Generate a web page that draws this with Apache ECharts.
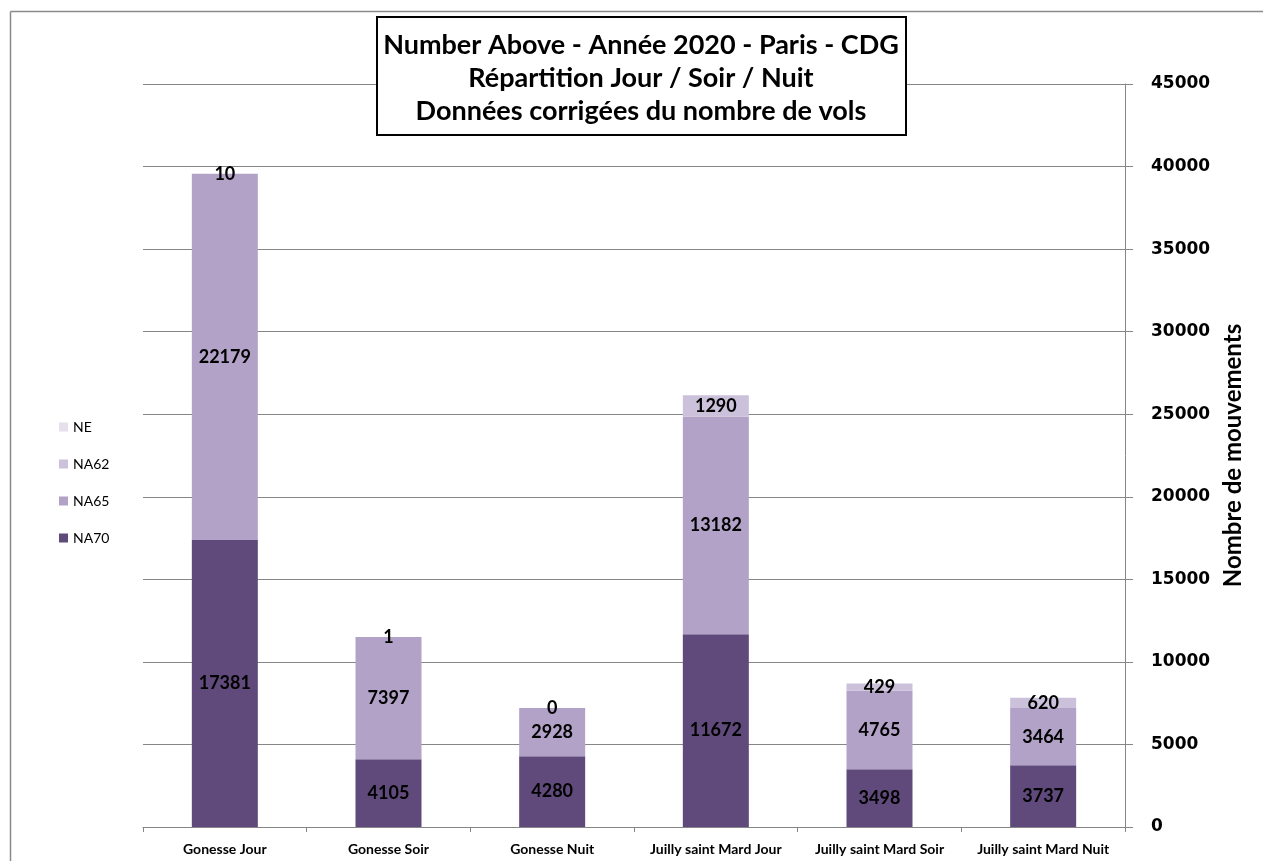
<!DOCTYPE html>
<html><head><meta charset="utf-8">
<script src="https://cdn.jsdelivr.net/npm/echarts@6/dist/echarts.min.js"></script>
<style>html,body{margin:0;padding:0;background:#fff;overflow:hidden}#c{width:1263px;height:861px}</style>
</head><body><div id="c"></div>
<script>
const categories = ["Gonesse Jour","Gonesse Soir","Gonesse Nuit","Juilly saint Mard Jour","Juilly saint Mard Soir","Juilly saint Mard Nuit"];
const NA70 = [17381, 4105, 4280, 11672, 3498, 3737];
const NA65 = [22179, 7397, 2928, 13182, 4765, 3464];
const NA62 = [10, 1, 0, 1290, 429, 620];
const NE = [null, null, null, null, null, null];
const titleLines = ["Number Above - Année 2020 - Paris - CDG","Répartition Jour / Soir / Nuit","Données corrigées du nombre de vols"];
const yName = "Nombre de mouvements";

const F = "Lato, 'Liberation Sans', sans-serif";
const lbl = {show:true, position:'inside', color:'#000', fontWeight:'bold', fontSize:18, fontFamily:F};
const chart = echarts.init(document.getElementById('c'));
chart.setOption({
  animation:false,
  backgroundColor:'#fff',
  grid:{left:143, right:138, top:84, bottom:34, containLabel:false},
  legend:{
    orient:'vertical', left:54, top:415, itemWidth:9, itemHeight:9, itemGap:23,
    data:['NE','NA62','NA65','NA70'],
    textStyle:{fontFamily:F, fontSize:14, color:'#000'}, icon:'rect'
  },
  xAxis:{
    type:'category', data:categories,
    axisLine:{lineStyle:{color:'#868686'}},
    axisTick:{show:true, length:5, lineStyle:{color:'#868686'}},
    axisLabel:{color:'#000', fontWeight:'bold', fontSize:14, fontFamily:F, margin:15, interval:0}
  },
  yAxis:{
    type:'value', position:'right', min:0, max:45000, interval:5000,
    name:yName, nameLocation:'middle', nameRotate:90, nameGap:86,
    nameTextStyle:{color:'#000', fontWeight:'bold', fontSize:24, fontFamily:F},
    axisLine:{show:true, lineStyle:{color:'#868686'}},
    axisTick:{show:true, inside:false, length:8, lineStyle:{color:'#868686'}},
    axisLabel:{color:'#000', fontWeight:'bold', fontSize:17, fontFamily:"'DejaVu Sans', sans-serif", margin:26, formatter:v=>String(v)},
    splitLine:{show:true, lineStyle:{color:'#868686', width:1}}
  },
  series:[
    {name:'NA70', type:'bar', stack:'s', data:NA70, barWidth:66, itemStyle:{color:'#604a7b'}, label:lbl},
    {name:'NA65', type:'bar', stack:'s', data:NA65, barWidth:66, itemStyle:{color:'#b2a2c7'}, label:lbl},
    {name:'NA62', type:'bar', stack:'s', data:NA62, barWidth:66, itemStyle:{color:'#ccc1da'}, label:lbl},
    {name:'NE', type:'bar', stack:'s', data:NE, barWidth:66, itemStyle:{color:'#e5e0ec'}}
  ],
  graphic:[
    {type:'line', silent:true, shape:{x1:10.5, y1:11.5, x2:1263, y2:11.5}, style:{stroke:'#8a8a8a', lineWidth:1.5}},
    {type:'line', silent:true, shape:{x1:10.5, y1:11.5, x2:10.5, y2:861}, style:{stroke:'#8a8a8a', lineWidth:1.5}},
    {type:'rect', z:100, shape:{x:377, y:17, width:529, height:118}, style:{fill:'#fff', stroke:'#000', lineWidth:2}},
    {type:'text', z:101, x:641, y:78, style:{text:titleLines.join('\n'), align:'center', verticalAlign:'middle', font:"bold 27px Lato, 'Liberation Sans', sans-serif", lineHeight:33, fill:'#000'}}
  ]
});
</script></body></html>
